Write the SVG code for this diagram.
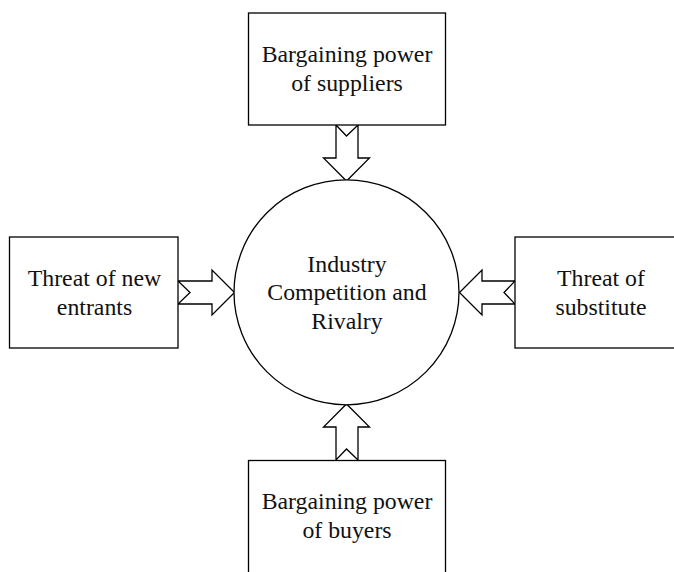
<svg xmlns="http://www.w3.org/2000/svg" width="674" height="572" viewBox="0 0 674 572">
  <style>
    .box { fill: #ffffff; stroke: #000000; stroke-width: 1.3; }
    .arrow { fill: #ffffff; stroke: #000000; stroke-width: 1.3; stroke-linejoin: miter; }
    .lbl { font-family: "Liberation Serif", "Times New Roman", serif; font-size: 23.8px; fill: #111111; text-anchor: middle; }
  </style>
  <rect x="0" y="0" width="674" height="572" fill="#ffffff"/>
  <g id="connectors">
    <polygon class="arrow" points="336,125 346.5,136 358,125 358,158 369.5,158 346.5,181 323.5,158 336,158"/>
    <polygon class="arrow" points="178,281 212,281 212,270 234.5,292.5 212,315 212,304 178,304 190,292.5"/>
    <polygon class="arrow" points="515,281 482,281 482,270 459.5,292.5 482,315 482,304 515,304 504,292.5"/>
    <polygon class="arrow" points="336,460 336,427 323.5,427 346.5,404 369.5,427 358,427 358,460 346.5,449"/>
  </g>
  <g id="center">
    <circle class="box" cx="346.5" cy="292.3" r="112.5"/>
    <text class="lbl" x="347" y="271.5">Industry</text>
    <text class="lbl" x="347" y="300">Competition and</text>
    <text class="lbl" x="347" y="328.5">Rivalry</text>
  </g>
  <g id="suppliers">
    <rect class="box" x="248.5" y="13" width="197" height="112"/>
    <text class="lbl" x="347" y="62">Bargaining power</text>
    <text class="lbl" x="347" y="90.5">of suppliers</text>
  </g>
  <g id="new-entrants">
    <rect class="box" x="9.5" y="237" width="168.5" height="111"/>
    <text class="lbl" x="94.5" y="286">Threat of new</text>
    <text class="lbl" x="94.5" y="314.5">entrants</text>
  </g>
  <g id="substitute">
    <rect class="box" x="515" y="237" width="170" height="111"/>
    <text class="lbl" x="601" y="286">Threat of</text>
    <text class="lbl" x="601" y="314.5">substitute</text>
  </g>
  <g id="buyers">
    <rect class="box" x="248.5" y="460.5" width="197" height="115"/>
    <text class="lbl" x="347" y="509">Bargaining power</text>
    <text class="lbl" x="347" y="537.5">of buyers</text>
  </g>
</svg>
